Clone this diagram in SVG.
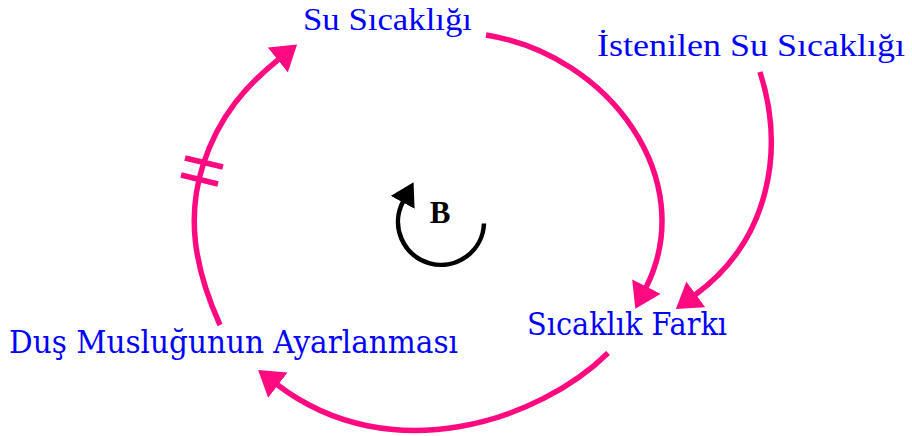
<svg xmlns="http://www.w3.org/2000/svg" width="912" height="436" viewBox="0 0 912 436">
  <style>
    .lbl { fill: #0000FF; font-family: "DejaVu Serif", "Liberation Serif", serif; font-size: 31px; }
    .lbl-top { fill: #0000FF; font-family: "Liberation Serif", "DejaVu Serif", serif; font-size: 31px; }
    .link { fill: none; stroke: #FF0A80; stroke-width: 5.5; }
    .loop { fill: none; stroke: #000000; stroke-width: 4.5; }
    .loop-lbl { fill: #000000; font-family: "Liberation Serif", serif; font-weight: bold; font-size: 31px; }
  </style>
  <defs>
    <marker id="pink-head" markerUnits="userSpaceOnUse" markerWidth="25" markerHeight="32" viewBox="0 0 24 31" refX="1" refY="15.5" orient="auto">
      <path d="M0,0 L24,15.5 L0,31 z" fill="#FF0A80"/>
    </marker>
    <marker id="black-head" markerUnits="userSpaceOnUse" markerWidth="23" markerHeight="27" viewBox="0 0 22 26" refX="1" refY="13" orient="auto">
      <path d="M0,0 L22,13 L0,26 z" fill="#000000"/>
    </marker>
  </defs>
  <rect x="0" y="0" width="912" height="436" fill="#FFFFFF"/>

  <g id="connectors">
    <path id="e-su-fark" class="link" d="M486,35 C610,55 700,180 646,287.5" marker-end="url(#pink-head)"/>
    <path id="e-istenilen-fark" class="link" d="M760,72 C785,150 770,240 695,295" marker-end="url(#pink-head)"/>
    <path id="e-fark-dus" class="link" d="M608,353 C540,420 391,471.5 277,384.5" marker-end="url(#pink-head)"/>
    <path id="e-dus-su" class="link" d="M220,325 C193,265 187,215 203,165 C219,115 248,84 278.6,59.3" marker-end="url(#pink-head)"/>
    <g id="delay-mark">
      <line class="link" x1="185" y1="158" x2="223" y2="167"/>
      <line class="link" x1="181" y1="175" x2="218" y2="184"/>
    </g>
  </g>

  <g id="loop-B">
    <path class="loop" d="M484,223.5 A43,43 0 1,1 403.2,201.4" marker-end="url(#black-head)"/>
    <text class="loop-lbl" x="440" y="223" text-anchor="middle">B</text>
  </g>

  <g id="node-su-sicakligi">
    <text class="lbl-top" x="303" y="30" textLength="169" lengthAdjust="spacingAndGlyphs">Su Sıcaklığı</text>
  </g>
  <g id="node-istenilen">
    <text class="lbl-top" x="597" y="56" textLength="308" lengthAdjust="spacingAndGlyphs">İstenilen Su Sıcaklığı</text>
  </g>
  <g id="node-sicaklik-farki">
    <text class="lbl" x="527" y="335" textLength="200" lengthAdjust="spacingAndGlyphs">Sıcaklık Farkı</text>
  </g>
  <g id="node-dus">
    <text class="lbl" x="9" y="353" textLength="449" lengthAdjust="spacingAndGlyphs">Duş Musluğunun Ayarlanması</text>
  </g>
</svg>
